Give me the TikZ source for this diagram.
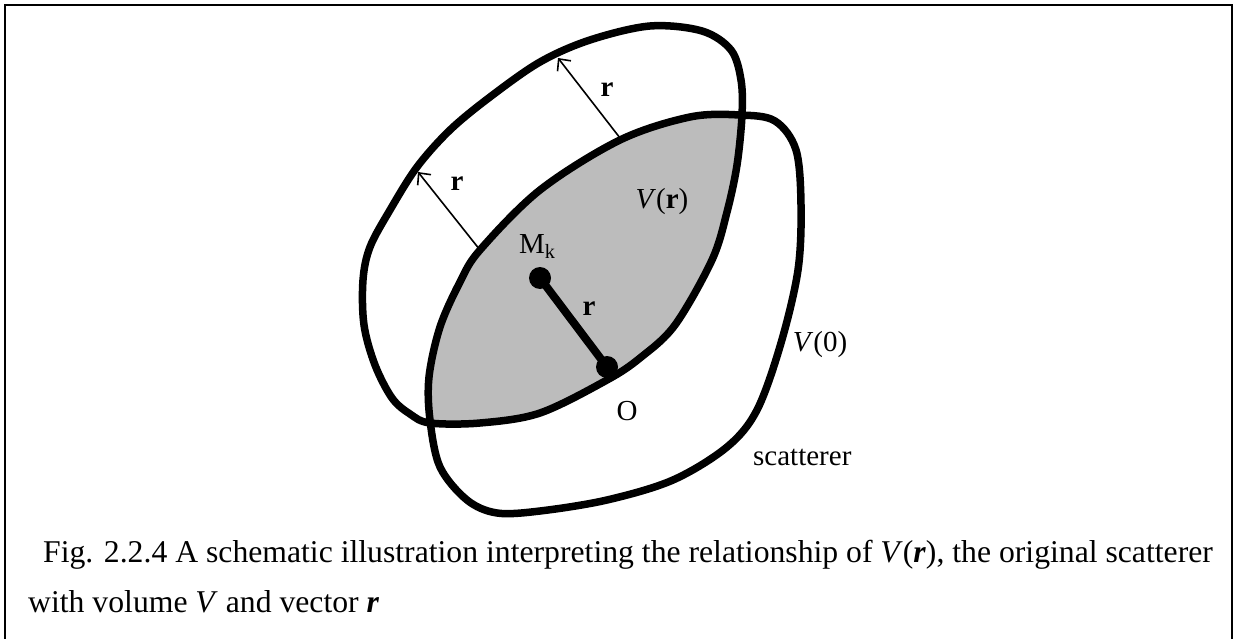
\documentclass[tikz,border=0pt]{standalone}
\usepackage{fontspec}
\setmainfont{Liberation Serif}
\usetikzlibrary{arrows.meta}
\definecolor{lensgray}{RGB}{188,188,188}
\begin{document}
\begin{tikzpicture}[x=1pt,y=-1pt,
  outline/.style={line width=7.5pt,line join=round},
  vecarrow/.style={line width=1.6pt,-{Straight Barb[length=9pt,width=17pt,line width=1.6pt]}},
  lbl/.style={font=\fontsize{29}{34}\selectfont,inner sep=0pt,anchor=base},
  captext/.style={font=\fontsize{31.7}{38}\selectfont,inner sep=0pt,anchor=base west},
  dotfill/.style={fill=black}]
\useasboundingbox (0,0) rectangle (1234,639);
\draw[line width=2pt] (5,639) -- (5,5) -- (1232,5) -- (1232,639);
% shapes
\path[save path=\shapeA] plot[smooth cycle,tension=0.55] coordinates {
 (650,26) (702,31) (731,50) (741,80) (742,115) (737,165) (727,212) (712,260)
 (675,325) (640,358) (607,380) (540,413) (480,423) (430,423) (410,414) (392,398)
 (375,365) (364,325) (363,280) (370,247) (390,210) (417,167) (450,130) (490,97)
 (540,62) (590,40)};
\path[save path=\shapeB] plot[smooth cycle,tension=0.55] coordinates {
 (740,115) (775,121) (796,150) (801,205) (798,270) (781,343) (757,410) (727,447)
 (673,480) (607,500) (540,511) (497,513) (467,500) (440,467) (430,420) (429,377)
 (440,327) (460,282) (480,250) (540,190) (620,140) (690,117)};
\begin{scope}
\clip[use path=\shapeB];
\fill[lensgray,use path=\shapeA];
\end{scope}
% vector arrows
\coordinate (t1) at (480,250);
\coordinate (h1) at (418,172);
\coordinate (t2) at (620,138);
\coordinate (h2) at (558,58);
\draw[vecarrow] (t1) -- (h1);
\draw[vecarrow] (t2) -- (h2);
\draw[outline,use path=\shapeA];
\draw[outline,use path=\shapeB];
% points
\coordinate (Mk) at (540,278);
\coordinate (O) at (607,367);
\draw[line width=8pt] (Mk) -- (O);
\fill[dotfill] (Mk) circle (11);
\fill[dotfill] (O) circle (11);
% labels
\node[lbl] (r1) at (457,191) {\textbf{r}};
\node[lbl] (r2) at (607,97) {\textbf{r}};
\node[lbl] (Vr) at (662,208) {\textit{V}(\textbf{r})};
\node[lbl,anchor=base west] (Mlab) at (519,253) {M\textsubscript{k}};
\node[lbl] (r3) at (589,315) {\textbf{r}};
\node[lbl] (Olab) at (627,420) {O};
\node[lbl] (V0) at (820,351) {\textit{V}(0)};
\node[lbl,anchor=base west] (scat) at (753,465) {scatterer};
% caption
\node[captext] (cap1) at (43,562) {Fig. 2.2.4 A schematic illustration interpreting the relationship of \textit{V}(\textbf{\textit{r}}), the original scatterer};
\node[captext] (cap2) at (28,612) {with volume \textit{V} and vector \textbf{\textit{r}}};
\end{tikzpicture}
\end{document}
